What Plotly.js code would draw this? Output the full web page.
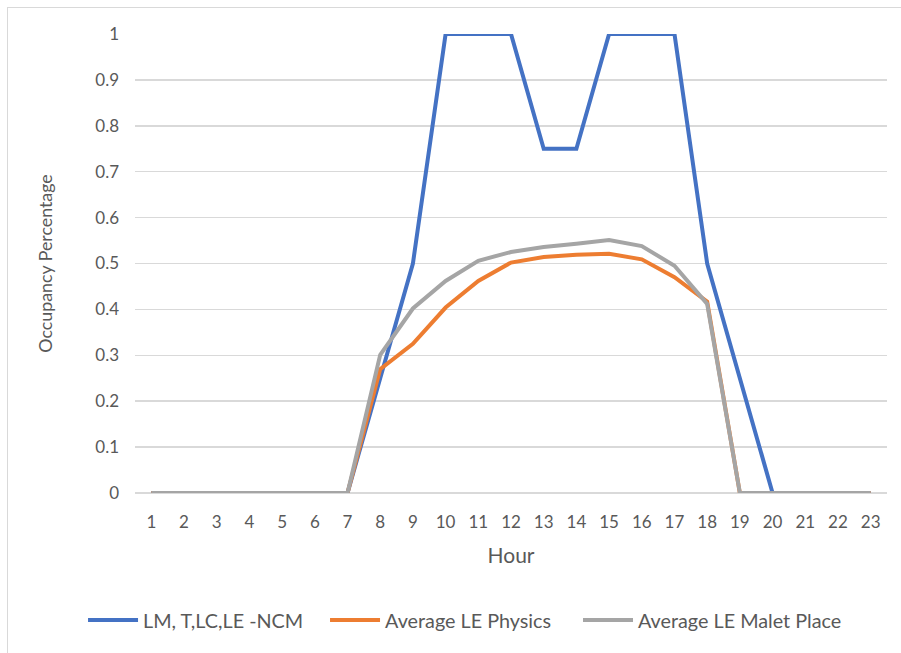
<!DOCTYPE html>
<html>
<head>
<meta charset="utf-8">
<script src="https://cdn.plot.ly/plotly-3.0.1.min.js"></script>
<style>
  html, body { margin: 0; padding: 0; background: #fff; overflow: hidden; }
  #chart { width: 901px; height: 653px; position: relative; }
  #frame { position: absolute; left: 7px; top: 7px; width: 1000px; height: 1000px;
           border-left: 1.5px solid #D9D9D9; border-top: 1.5px solid #D9D9D9; pointer-events: none; }
</style>
</head>
<body>
<div id="chart"></div>
<div id="frame"></div>
<script>
const hours = [1,2,3,4,5,6,7,8,9,10,11,12,13,14,15,16,17,18,19,20,21,22,23];
const ncm = [0,0,0,0,0,0,0,0.25,0.5,1,1,1,0.75,0.75,1,1,1,0.5,0.25,0,0,0,0];
const physics = [0,0,0,0,0,0,0,0.270,0.325,0.404,0.462,0.502,0.514,0.519,0.521,0.509,0.470,0.417,0,0,0,0,0];
const malet = [0,0,0,0,0,0,0,0.301,0.402,0.462,0.506,0.525,0.536,0.543,0.551,0.538,0.495,0.412,0,0,0,0,0];
const seriesNames = ['LM, T,LC,LE -NCM', 'Average LE Physics', 'Average LE Malet Place'];
const colors = ['#4472C4', '#ED7D31', '#A5A5A5'];

const FONT = 'Lato, "Open Sans", sans-serif';
const series = [ncm, physics, malet];
const legendIds = ['legend', 'legend2', 'legend3'];
const traces = series.map((ys, i) => ({
  x: hours, y: ys, type: 'scatter', mode: 'lines', name: seriesNames[i],
  legend: legendIds[i],
  line: { color: colors[i], width: 4 }
}));

const legendX = [-0.0691, 0.2527, 0.5891];
function legendAt(x) {
  return {
    orientation: 'h', x: x, xanchor: 'left', y: -0.2767, yanchor: 'middle',
    font: { size: 19.8, color: '#595959' }, itemwidth: 50, bgcolor: 'rgba(0,0,0,0)'
  };
}

const layout = {
  width: 901, height: 653,
  margin: { l: 135, r: 14, t: 34, b: 160 },
  paper_bgcolor: '#fff', plot_bgcolor: '#fff',
  font: { family: FONT, color: '#595959', size: 16 },
  xaxis: {
    range: [0.5, 23.5], tickmode: 'array', tickvals: hours, ticktext: hours.map(String),
    showgrid: false, zeroline: false, showline: false, ticks: '',
    tickfont: { size: 17, color: '#595959' }, ticklabelstandoff: 17,
    title: { text: 'Hour', font: { size: 21, color: '#595959' }, standoff: 17 }
  },
  yaxis: {
    range: [0, 1], dtick: 0.1, tick0: 0, showgrid: true, gridcolor: '#D9D9D9', gridwidth: 1.5,
    zeroline: true, zerolinecolor: '#D9D9D9', zerolinewidth: 1.5, showline: false, ticks: '',
    tickfont: { size: 17, color: '#595959' }, ticklabelstandoff: 15,
    title: { text: 'Occupancy Percentage', font: { size: 17.8, color: '#595959' }, standoff: 38 }
  },
  showlegend: true,
  legend: legendAt(legendX[0]),
  legend2: legendAt(legendX[1]),
  legend3: legendAt(legendX[2])
};

Plotly.newPlot('chart', traces, layout, { displayModeBar: false, staticPlot: true });
</script>
</body>
</html>
